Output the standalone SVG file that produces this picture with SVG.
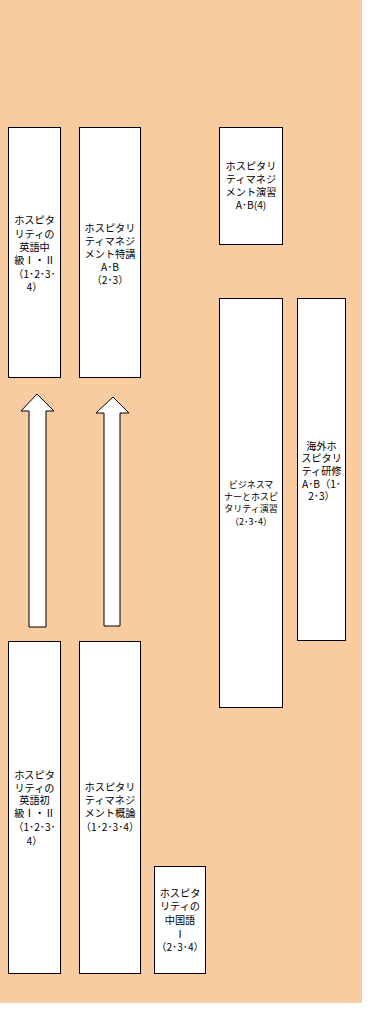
<svg xmlns="http://www.w3.org/2000/svg" width="371" height="1010" viewBox="0 0 371 1010">
<style>
.box{fill:#fff;stroke:#000;stroke-width:1}
.arr{fill:#fff;stroke:#000;stroke-width:1;stroke-linejoin:miter}
text{font-family:"Noto Sans CJK JP","Noto Sans",sans-serif;font-size:10.2px;fill:#000;text-anchor:middle}
.s{font-size:9px}
</style>
<rect x="0" y="0" width="362" height="1003" fill="#F8CBA0"/>
<g id="connectors">
<polygon class="arr" points="37,394 54,411 46,411 46,627 29,627 29,411 21,411"/>
<polygon class="arr" points="113,397 129,413 120,413 120,626 104,626 104,413 96,413"/>
</g>
<g id="n-eigo-chukyu">
<rect class="box" x="8.5" y="127.5" width="52" height="250"/>
<text x="34.5" y="224">ホスピタ</text>
<text x="34.5" y="237.5">リティの</text>
<text x="34.5" y="251">英語中</text>
<text x="34.5" y="264">級Ⅰ・Ⅱ</text>
<text x="34.5" y="277.5">（1･2･3･</text>
<text x="34.5" y="291">4）</text>
</g>
<g id="n-tokko">
<rect class="box" x="79.5" y="127.5" width="61" height="250"/>
<text x="110" y="232">ホスピタリ</text>
<text x="110" y="245">ティマネジ</text>
<text x="110" y="258">メント特講</text>
<text x="110" y="271">A･B</text>
<text x="110" y="284">（2･3）</text>
</g>
<g id="n-enshu">
<rect class="box" x="219.5" y="127.5" width="63" height="117"/>
<text x="251" y="170">ホスピタリ</text>
<text x="251" y="183">ティマネジ</text>
<text x="251" y="196">メント演習</text>
<text x="251" y="209">A･B(4)</text>
</g>
<g id="n-business">
<rect class="box" x="219.5" y="298.5" width="63" height="409"/>
<text class="s" x="251" y="488">ビジネスマ</text>
<text class="s" x="251" y="500">ナーとホスピ</text>
<text class="s" x="251" y="512">タリティ演習</text>
<text class="s" x="251" y="525">（2･3･4）</text>
</g>
<g id="n-kaigai">
<rect class="box" x="297.5" y="298.5" width="48" height="342"/>
<text x="321.5" y="449.5">海外ホ</text>
<text x="321.5" y="462">スピタリ</text>
<text x="321.5" y="475">ティ研修</text>
<text x="321.5" y="487.5">A･B（1･</text>
<text x="321.5" y="500">2･3）</text>
</g>
<g id="n-eigo-shokyu">
<rect class="box" x="8.5" y="641.5" width="52" height="332"/>
<text x="34.5" y="779">ホスピタ</text>
<text x="34.5" y="791.5">リティの</text>
<text x="34.5" y="804">英語初</text>
<text x="34.5" y="817">級Ⅰ・Ⅱ</text>
<text x="34.5" y="831">（1･2･3･</text>
<text x="34.5" y="845">4）</text>
</g>
<g id="n-gairon">
<rect class="box" x="79.5" y="641.5" width="61" height="332"/>
<text x="110" y="791">ホスピタリ</text>
<text x="110" y="804">ティマネジ</text>
<text x="110" y="817">メント概論</text>
<text x="110" y="831">（1･2･3･4）</text>
</g>
<g id="n-chugokugo">
<rect class="box" x="154.5" y="866.5" width="51" height="107"/>
<text x="180" y="897">ホスピタ</text>
<text x="180" y="910">リティの</text>
<text x="180" y="924">中国語</text>
<text x="180" y="938">Ⅰ</text>
<text x="180" y="951">（2･3･4）</text>
</g>
</svg>
